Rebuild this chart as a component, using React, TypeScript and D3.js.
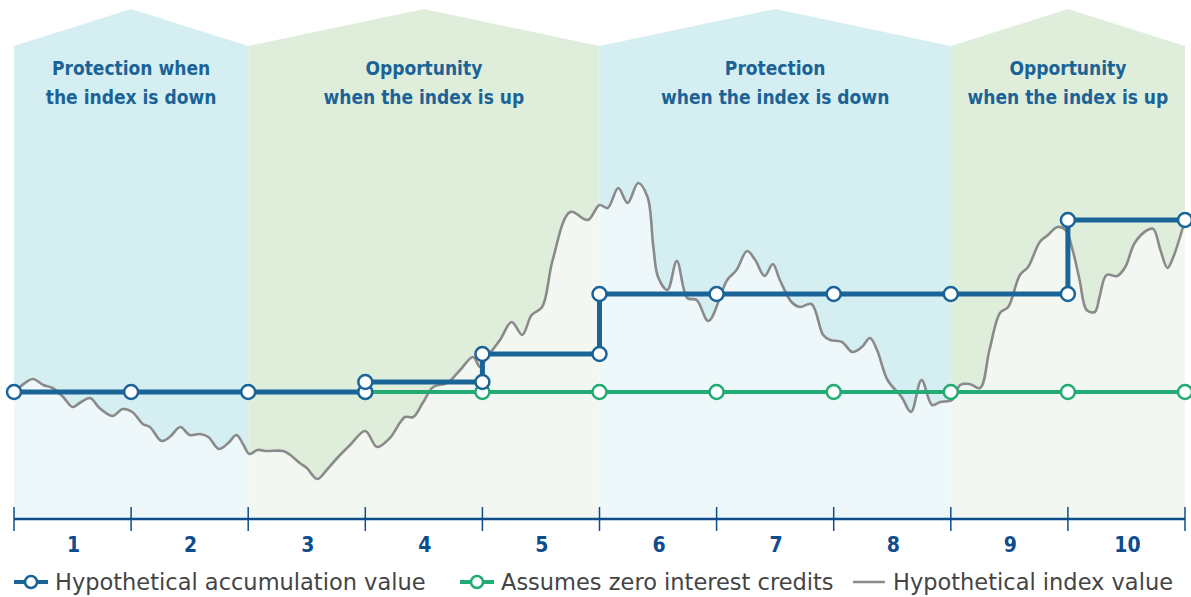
import React from "react";
import * as d3 from "d3";

// year boundaries on the axis (0 = start of year 1)
const yearTicks = [0, 1, 2, 3, 4, 5, 6, 7, 8, 9, 10];
const yearLabels = ["1", "2", "3", "4", "5", "6", "7", "8", "9", "10"];

const periods = [
  { start: 0, end: 2, kind: "protect", lines: ["Protection when", "the index is down"] },
  { start: 2, end: 5, kind: "opportunity", lines: ["Opportunity", "when the index is up"] },
  { start: 5, end: 8, kind: "protect", lines: ["Protection", "when the index is down"] },
  { start: 8, end: 10, kind: "opportunity", lines: ["Opportunity", "when the index is up"] },
];

// hypothetical accumulation value (step path, [year, value])
const accumulation = [
  [0, 100], [1, 100], [2, 100], [3, 100], [3, 102.5], [4, 102.5], [4, 109.5],
  [5, 109.5], [5, 124.5], [6, 124.5], [7, 124.5], [8, 124.5], [9, 124.5],
  [9, 143], [10, 143],
];

// assumes zero interest credits
const zeroCredit = [
  [3, 100], [4, 100], [5, 100], [6, 100], [7, 100], [8, 100], [9, 100], [10, 100],
];

// hypothetical index value ([year, value])
const indexValues = [
  [0, 100], [0.05, 101.25], [0.16, 103.25], [0.25, 101.75], [0.33, 101], [0.42, 98.75],
  [0.5, 96.25], [0.56, 97.25], [0.65, 98.5], [0.73, 96], [0.84, 94], [0.93, 95.75],
  [1.01, 95], [1.1, 92], [1.16, 91.25], [1.26, 87.75], [1.33, 88.75], [1.42, 91.25],
  [1.5, 89.25], [1.59, 89.5], [1.66, 88.75], [1.75, 85.75], [1.83, 87.25], [1.9, 89.25],
  [1.96, 86.75], [2.01, 84.5], [2.08, 85.5], [2.16, 85.25], [2.3, 85.25], [2.36, 84.25],
  [2.44, 82.25], [2.5, 81], [2.59, 78.25], [2.67, 80.5], [2.76, 83.5], [2.87, 86.75],
  [3.0, 90.25], [3.1, 86.25], [3.21, 88.5], [3.3, 92.5], [3.34, 93.75], [3.41, 93.75],
  [3.49, 97.25], [3.58, 101.25], [3.7, 102.25], [3.81, 105.5], [3.92, 108.75], [3.98, 106.25],
  [4.04, 108.75], [4.15, 113], [4.25, 117.5], [4.34, 114.25], [4.42, 119.25], [4.51, 121.25],
  [4.6, 133], [4.75, 145], [4.9, 143], [5.0, 146.75], [5.07, 146], [5.16, 151],
  [5.24, 147.25], [5.33, 152.25], [5.41, 148.75], [5.46, 136.25], [5.5, 128.75], [5.58, 125.5],
  [5.66, 132.75], [5.75, 123.5], [5.83, 123], [5.93, 117.75], [6.09, 128], [6.17, 130.5],
  [6.26, 135.25], [6.33, 133], [6.41, 129], [6.48, 132], [6.54, 128], [6.64, 122.5],
  [6.71, 121.25], [6.81, 122], [6.91, 114.25], [6.97, 113], [7.07, 112.5], [7.16, 110],
  [7.24, 111.25], [7.31, 113.5], [7.37, 110.5], [7.46, 103], [7.58, 98.75], [7.66, 95],
  [7.75, 103], [7.84, 96.75], [7.91, 97.5], [8.01, 98], [8.08, 101.75], [8.16, 102],
  [8.25, 101], [8.33, 110.5], [8.42, 119.75], [8.49, 121.25], [8.59, 129.25], [8.66, 131.25],
  [8.76, 137.5], [8.83, 139.25], [8.91, 141.25], [8.98, 140.5], [9.04, 135.5], [9.1, 128],
  [9.16, 120.5], [9.23, 120], [9.27, 123.75], [9.33, 129.25], [9.42, 129], [9.49, 131.25],
  [9.57, 137.25], [9.68, 140.5], [9.73, 140.75], [9.79, 135.5], [9.85, 131], [9.9, 133.75],
  [10, 143],
];

const legendItems = [
  { key: "acc", label: "Hypothetical accumulation value" },
  { key: "zero", label: "Assumes zero interest credits" },
  { key: "index", label: "Hypothetical index value" },
];

const W = 1191;
const H = 597;
const axisY = 519;
const roofTop = 9;
const roofShoulder = 46;

const BLUE = "#1a6497";
const GREEN = "#22ab72";
const GREY = "#8a8a8a";
const AXIS = "#0f4c8c";
const TITLE = "#1b6396";
const panelFill = { protect: "#d5eef2", opportunity: "#dfeedb" };

const App = () => {
  const x = d3.scaleLinear().domain([0, 10]).range([14, 1185]);
  const y = d3.scaleLinear().domain([70, 150]).range([512, 192]);

  const indexLine = d3
    .line()
    .x((d) => x(d[0]))
    .y((d) => y(d[1]))
    .curve(d3.curveCatmullRom.alpha(0.5));

  const indexArea = d3
    .area()
    .x((d) => x(d[0]))
    .y0(axisY)
    .y1((d) => y(d[1]))
    .curve(d3.curveCatmullRom.alpha(0.5));

  const stepLine = d3
    .line()
    .x((d) => x(d[0]))
    .y((d) => y(d[1]));

  const titleFont = "'DejaVu Sans Condensed', 'DejaVu Sans', sans-serif";
  const bodyFont = "'DejaVu Sans', sans-serif";

  return (
    <svg width={W} height={H} style={{ position: "absolute", left: 0, top: 0 }}>
      <rect width={W} height={H} fill="#fff" />

      {periods.map((p, i) => {
        const x0 = x(p.start);
        const x1 = x(p.end);
        const xm = (x0 + x1) / 2;
        const pts = [
          [x0, axisY], [x0, roofShoulder], [xm, roofTop], [x1, roofShoulder], [x1, axisY],
        ];
        return (
          <g key={i}>
            <polygon points={pts.map((q) => q.join(",")).join(" ")} fill={panelFill[p.kind]} />
            {p.lines.map((t, j) => (
              <text
                key={j}
                x={xm}
                y={75 + j * 29}
                textAnchor="middle"
                fontFamily={titleFont}
                fontWeight="bold"
                fontSize={19}
                fill={TITLE}
              >
                {t}
              </text>
            ))}
          </g>
        );
      })}

      <path d={indexArea(indexValues)} fill="#fff" fillOpacity={0.6} />
      <path d={indexLine(indexValues)} fill="none" stroke={GREY} strokeWidth={2.6} />

      <path d={stepLine(zeroCredit)} fill="none" stroke={GREEN} strokeWidth={4} />
      {zeroCredit.map((d, i) => (
        <circle key={i} cx={x(d[0])} cy={y(d[1])} r={7} fill="#fff" stroke={GREEN} strokeWidth={2.5} />
      ))}

      <path d={stepLine(accumulation)} fill="none" stroke={BLUE} strokeWidth={5} />
      {accumulation.map((d, i) => (
        <circle key={i} cx={x(d[0])} cy={y(d[1])} r={7} fill="#fff" stroke={BLUE} strokeWidth={2.5} />
      ))}

      <g>
        <line x1={x(0)} x2={x(10)} y1={axisY} y2={axisY} stroke={AXIS} strokeWidth={2.5} />
        {yearTicks.map((t) => (
          <line key={t} x1={x(t)} x2={x(t)} y1={axisY - 12} y2={axisY + 12} stroke={AXIS} strokeWidth={1.5} />
        ))}
        {yearLabels.map((l, i) => (
          <text
            key={l}
            x={x(i + 0.5) + 1}
            y={552}
            textAnchor="middle"
            fontFamily={titleFont}
            fontWeight="bold"
            fontSize={21}
            fill={AXIS}
          >
            {l}
          </text>
        ))}
      </g>

      <g fontFamily={bodyFont} fontSize={22.5} fill="#444">
        {legendItems.map((it, i) => {
          const lx = [14, 460, 853][i];
          const ly = 582;
          return (
            <g key={it.key}>
              {it.key === "index" ? (
                <line x1={lx} x2={lx + 32} y1={ly} y2={ly} stroke={GREY} strokeWidth={2.5} />
              ) : (
                <g>
                  <line x1={lx} x2={lx + 34} y1={ly} y2={ly} stroke={it.key === "acc" ? BLUE : GREEN} strokeWidth={4} />
                  <circle cx={lx + 17} cy={ly} r={6} fill="#fff" stroke={it.key === "acc" ? BLUE : GREEN} strokeWidth={2.5} />
                </g>
              )}
              <text x={lx + (it.key === "index" ? 40 : 41)} y={ly + 8}>
                {it.label}
              </text>
            </g>
          );
        })}
      </g>
    </svg>
  );
};

export default App;
